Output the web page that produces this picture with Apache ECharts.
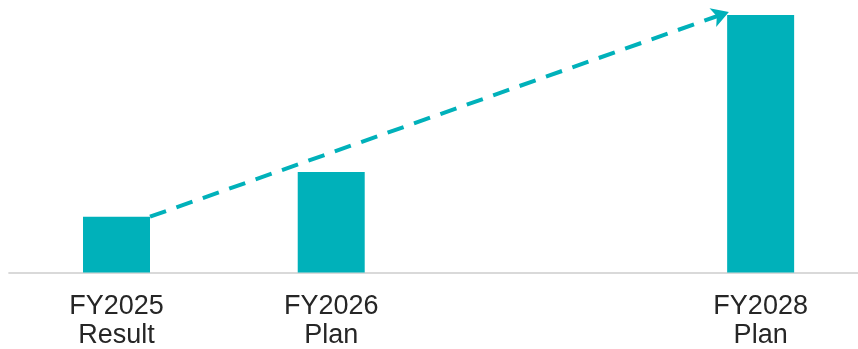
<!DOCTYPE html>
<html><head><meta charset="utf-8">
<script src="https://cdn.jsdelivr.net/npm/echarts@6/dist/echarts.min.js"></script>
<style>html,body{margin:0;padding:0;background:#fff}#c{width:858px;height:349px}</style>
</head><body><div id="c"></div>
<script>
const categories = ['FY2025\nResult', 'FY2026\nPlan', '', 'FY2028\nPlan'];
const values = [55.8, 100.5, null, 257.5];
// arrow from top-right of first bar to just above the left edge of last bar (x in category units, y in value units)
const arrowStart = [0.656, 55.8];
const arrowEnd = [3.352, 260.5];

const chart = echarts.init(document.getElementById('c'));
chart.setOption({
  animation: false,
  grid: { left: 9.15, top: 7.5, width: 858.85, height: 265, containLabel: false, outerBoundsMode: 'none' },
  xAxis: [
    { type: 'category', data: categories,
      axisLine: { lineStyle: { color: '#d9d9d9', width: 2 } },
      axisTick: { show: false },
      axisLabel: { color: '#262626', fontFamily: 'Liberation Sans, Arial, sans-serif', fontSize: 27, lineHeight: 29, margin: 20, interval: 0 } },
    { type: 'value', min: 0, max: 4, show: false }
  ],
  yAxis: { type: 'value', min: 0, max: 265, show: false, splitLine: { show: false } },
  series: [
    { type: 'bar', data: values, barWidth: '31.2%', itemStyle: { color: '#00B1BA' } },
    { type: 'line', xAxisIndex: 1, data: [], symbol: 'none', clip: false,
      markLine: {
        silent: true, symbol: ['none', 'arrow'], symbolSize: [15, 17],
        label: { show: false },
        lineStyle: { color: '#00B1BA', width: 4, type: [17, 11] },
        data: [[{ coord: arrowStart }, { coord: arrowEnd }]]
      } }
  ]
});
</script></body></html>
